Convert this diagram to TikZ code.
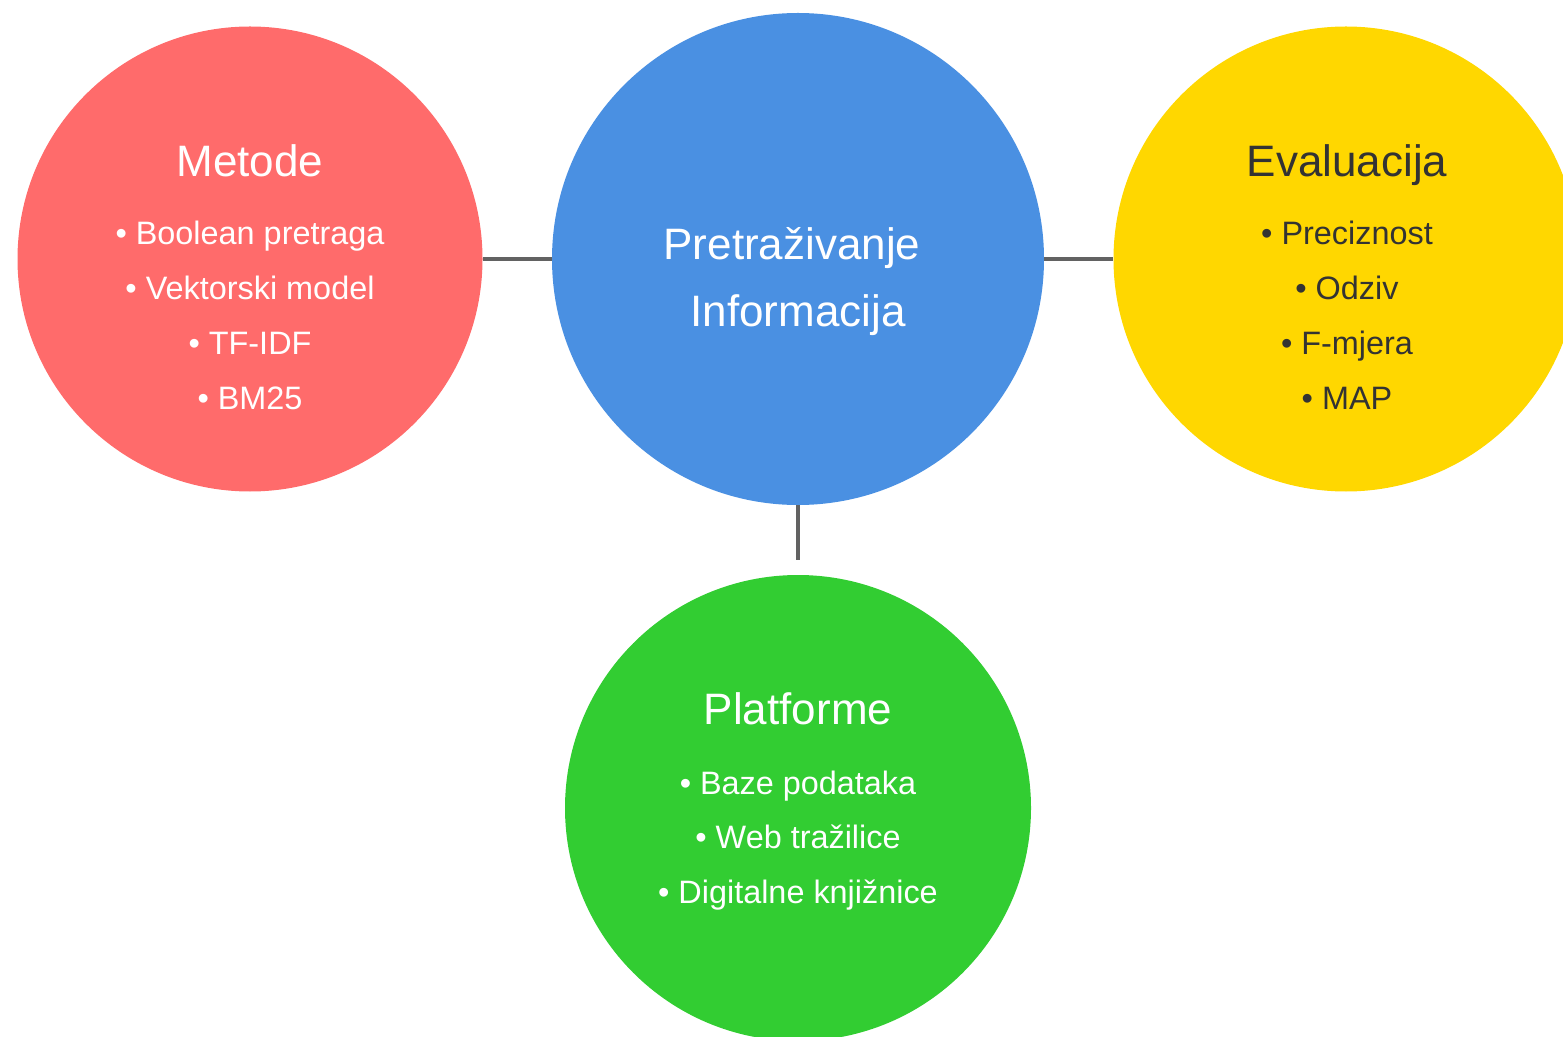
\documentclass[tikz,border=0pt]{standalone}
\usepackage{fontspec}
\setmainfont{Liberation Sans}
\usetikzlibrary{positioning}
\definecolor{metodered}{HTML}{FF6B6B}
\definecolor{irblue}{HTML}{4A90E2}
\definecolor{evalgold}{HTML}{FFD700}
\definecolor{platgreen}{HTML}{32CD32}
\definecolor{linkgray}{HTML}{626262}
\definecolor{darktext}{HTML}{333333}
\tikzset{topic/.style={circle,inner sep=0pt,minimum size=#1},
         title/.style={anchor=base,inner sep=0pt,font=\fontsize{22}{26}\selectfont},
         item/.style={anchor=base,inner sep=0pt,font=\fontsize{16.2}{19}\selectfont},
         link/.style={linkgray,line width=2pt}}

\begin{document}
\begin{tikzpicture}[x=0.5pt,y=-0.5pt]
\useasboundingbox (0,0) rectangle (1563,1037);
\clip (0,0) rectangle (1563,1037);

\node[topic=232.5pt,fill=metodered] (metode) at (250,259) {};
\node[topic=246pt,fill=irblue] (ir) at (798,259) {};
\node[topic=232.5pt,fill=evalgold] (evaluacija) at (1346,259) {};
\node[topic=233pt,fill=platgreen] (platforme) at (798,808) {};

\coordinate (ir-stub) at (798,560);
\draw[link] (metode) -- (ir);
\draw[link] (ir) -- (evaluacija);
\draw[link] (ir) -- (ir-stub);

\node[title,text=white] (ir-1) at (792,260) {Pretraživanje};
\node[title,text=white] (ir-2) at (798,327) {Informacija};

\node[title,text=white] (metode-title) at (250,177) {Metode};
\foreach \txt [count=\i] in {Boolean pretraga,Vektorski model,TF-IDF,BM25}
         {
           \node[item,text=white] (metode-\i) at (250,{245+55*(\i-1)}) {• \txt};
         }

\node[title,text=darktext] (evaluacija-title) at (1347,177) {Evaluacija};
\foreach \txt [count=\i] in {Preciznost,Odziv,F-mjera,MAP}
         {
           \node[item,text=darktext] (evaluacija-\i) at (1347,{245+55*(\i-1)}) {• \txt};
         }

\node[title,text=white] (platforme-title) at (798,724) {Platforme};
\foreach \txt [count=\i] in {Baze podataka,Web tražilice,Digitalne knjižnice}
         {
           \node[item,text=white] (platforme-\i) at (798,{794+54.5*(\i-1)}) {• \txt};
         }
\end{tikzpicture}
\end{document}
